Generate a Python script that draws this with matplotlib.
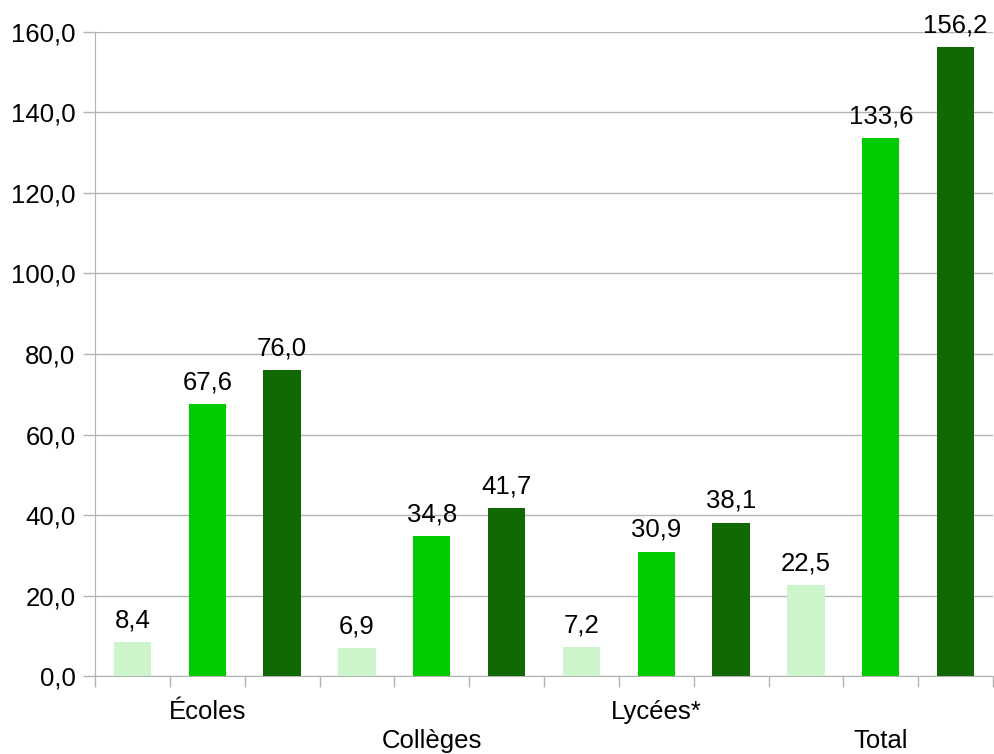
import matplotlib.pyplot as plt
import numpy as np

plt.rcParams['font.family'] = ['Liberation Sans', 'DejaVu Sans']

categories = ['Écoles', 'Collèges', 'Lycées*', 'Total']
serie_a = [8.4, 6.9, 7.2, 22.5]
serie_b = [67.6, 34.8, 30.9, 133.6]
serie_c = [76.0, 41.7, 38.1, 156.2]
colors = ['#ccf5cc', '#00cc00', '#116904']

fig = plt.figure(figsize=(9.94, 7.54), dpi=100)
ax = fig.add_axes([0.0956, 0.1034, 0.9034, 0.8542])

grey = '#b3b3b3'
fs = 18.5
series = [serie_a, serie_b, serie_c]
for g in range(len(categories)):
    for s in range(3):
        x = g * 3 + s
        v = series[s][g]
        ax.bar(x, v, width=0.5, color=colors[s], zorder=3)
        ax.annotate(('%.1f' % v).replace('.', ','), (x, v), xytext=(0, 7),
                    textcoords='offset points', ha='center', va='bottom',
                    fontsize=fs, color='black')

# catégories sur deux lignes alternées
for g, name in enumerate(categories):
    dy = -26 if g % 2 == 0 else -47
    ax.annotate(name, (g * 3 + 1, 0), xycoords=('data', 'axes fraction'),
                xytext=(0, dy), textcoords='offset points',
                ha='center', va='center', fontsize=fs)

ax.set_xlim(-0.5, 11.5)
ax.set_ylim(0, 160)
ax.set_xticks(np.arange(-0.5, 12, 1))
ax.set_xticklabels([])
ax.set_yticks(np.arange(0, 161, 20))
ax.set_yticklabels([('%.1f' % t).replace('.', ',') for t in np.arange(0, 161, 20)],
                   fontsize=fs)
ax.tick_params(axis='x', length=8, color=grey, width=1)
ax.tick_params(axis='y', length=9, color=grey, width=1, pad=5)
ax.grid(axis='y', color=grey, linewidth=1, zorder=0)
for side in ['top', 'right']:
    ax.spines[side].set_visible(False)
for side in ['left', 'bottom']:
    ax.spines[side].set_color(grey)

fig.savefig('out.png', dpi=100)
